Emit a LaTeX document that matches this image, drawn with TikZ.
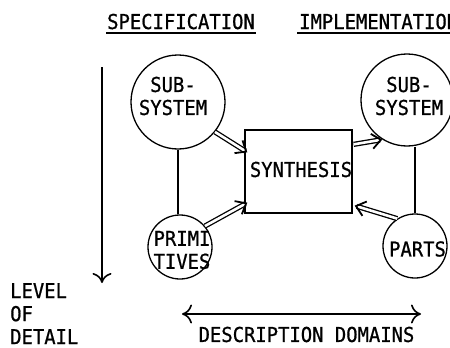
\documentclass[tikz,border=0pt]{standalone}
\usepackage{fontspec}
\newfontfamily\typfont[FakeStretch=0.92,FakeBold=0.8]{DejaVu Sans Mono}
\usetikzlibrary{arrows.meta,calc}

\tikzset{
  lbl/.style={inner sep=0pt, font=\typfont\fontsize{20.5}{23}\selectfont},
  circ/.style={draw, circle, line width=1.3pt, inner sep=0pt},
  synbox/.style={draw, rectangle, line width=1.3pt, inner sep=0pt},
  link/.style={line width=1.3pt},
  ul/.style={line width=1.6pt},
  dblarrow/.style={double, double distance=2.6pt, line width=1.3pt,
    -{Straight Barb[length=9pt,width=15pt,line width=1.8pt]}},
  axisarrow/.style={line width=1.3pt,
    -{Computer Modern Rightarrow[length=10pt,width=19pt,line width=1.6pt]}},
  bothaxis/.style={line width=1.3pt,
    {Computer Modern Rightarrow[length=10pt,width=19pt,line width=1.6pt]}-{Computer Modern Rightarrow[length=10pt,width=19pt,line width=1.6pt]}},
}

\begin{document}
\begin{tikzpicture}[x=1pt,y=-1pt]
  \useasboundingbox (0,0) rectangle (450,348);
  \clip (0,0) rectangle (450,348);

  % column headings
  \node[lbl, anchor=base west] (spec) at (107,29) {SPECIFICATION};
  \node[lbl, anchor=base west] (impl) at (299,29) {IMPLEMENTATION};
  \draw[ul] ($(spec.base west)+(-1,4)$) -- ($(spec.base east)+(1,4)$);
  \draw[ul] ($(impl.base west)+(-2,4)$) -- ($(impl.base east)+(1,4)$);

  % specification domain
  \node[circ, minimum size=94pt] (ss1) at (178,102) {};
  \node[lbl, align=center] (ss1t) at (173,96) {SUB-\\SYSTEM};
  \node[circ, minimum size=64pt] (pr) at (180,247) {};
  \node[lbl, align=center] (prt) at (182,250) {PRIMI\\TIVES};

  % implementation domain
  \node[circ, minimum size=92pt] (ss2) at (407,100) {};
  \node[lbl, align=center] (ss2t) at (409,96) {SUB-\\SYSTEM};
  \node[circ, minimum size=64pt] (pa) at (415,246) {};
  \node[lbl] (pat) at (417.5,249) {PARTS};

  % synthesis step
  \node[synbox, minimum width=107pt, minimum height=83pt] (syn) at (298.5,171.5) {};
  \node[lbl] (synt) at (301,169.5) {SYNTHESIS};

  % hierarchy links
  \draw[link] (ss1.south) -- (ss1.south |- pr.north);
  \draw[link] (pa.north |- ss2.south) -- (pa.north);

  % flows into and out of synthesis
  \draw[dblarrow] (ss1.321) -- ($(syn.north west)+(3,23)$);
  \draw[dblarrow] (pr.40) -- ($(syn.south west)+(3,-11)$);
  \draw[dblarrow] ($(syn.north east)+(1,15)$) -- (ss2.238);
  \draw[dblarrow] (pa.123) -- ($(syn.south east)+(2,-8)$);

  % axes
  \coordinate (lodtop) at (102,67);
  \coordinate (lodbot) at (102,283);
  \draw[axisarrow] (lodtop) -- (lodbot);
  \node[lbl, align=left, anchor=north west] (lod) at (10,283) {LEVEL\\OF\\DETAIL};

  \coordinate (ddl) at (182,314);
  \coordinate (ddr) at (421,314);
  \draw[bothaxis] (ddl) -- (ddr);
  \node[lbl] (dd) at (306.5,334.5) {DESCRIPTION DOMAINS};
\end{tikzpicture}
\end{document}
